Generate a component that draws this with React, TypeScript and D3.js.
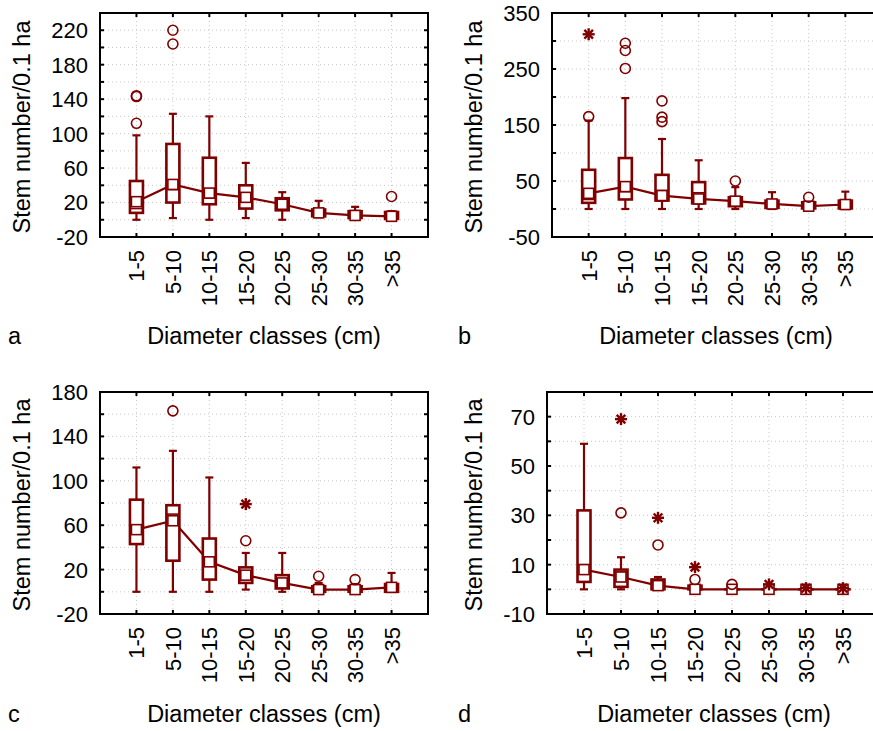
import React from 'react';
import * as d3 from 'd3';

const categories = ['1-5', '5-10', '10-15', '15-20', '20-25', '25-30', '30-35', '>35'];
const xTitle = 'Diameter classes (cm)';
const yTitle = 'Stem number/0.1 ha';

// Panel a
const aMin = [0, 2, 0, 2, 0, 3, 1, 0];
const aQ1 = [8, 20, 18, 13, 11, 4, 2, 1];
const aMedian = [13, 35, 25, 21, 15, 8, 5, 3];
const aQ3 = [45, 88, 72, 40, 25, 12, 10, 9];
const aMax = [98, 123, 120, 66, 32, 22, 15, 10];
const aMean = [21, 41, 31, 26, 18, 8, 5, 4];
const aOutliers: [number, number][] = [[0, 143], [0, 144], [0, 112], [1, 220], [1, 204], [7, 27]];
const aExtremes: [number, number][] = [];
const aTickLabels = [-20, 20, 60, 100, 140, 180, 220];
const aTicks = d3.range(-20, 241, 20);

// Panel b
const bMin = [0, 0, 0, 0, 0, 0, 0, 0];
const bQ1 = [11, 17, 15, 10, 5, 2, 1, 1];
const bMedian = [17, 31, 33, 29, 13, 8, 4, 7];
const bQ3 = [70, 91, 61, 48, 21, 15, 12, 15];
const bMax = [158, 198, 125, 87, 39, 30, 12, 31];
const bMean = [28, 40, 24, 18, 14, 9, 5, 8];
const bOutliers: [number, number][] = [[0, 165], [1, 296], [1, 283], [1, 251], [2, 193], [2, 164], [2, 156], [4, 50], [6, 21]];
const bExtremes: [number, number][] = [[0, 312]];
const bTickLabels = [-50, 50, 150, 250, 350];
const bTicks = d3.range(-50, 351, 50);

// Panel c
const cMin = [0, 0, 0, 2, 0, 0, 0, 0];
const cQ1 = [43, 28, 11, 8, 3, 0, 0, 0];
const cMedian = [60, 70, 31, 17, 10, 2, 2, 4];
const cQ3 = [83, 78, 48, 22, 15, 5, 5, 7];
const cMax = [112, 127, 103, 35, 35, 8, 7, 17];
const cMean = [56, 64, 27, 15, 8, 2, 2, 4];
const cOutliers: [number, number][] = [[1, 163], [3, 46], [5, 14], [6, 11]];
const cExtremes: [number, number][] = [[3, 79]];
const cTickLabels = [-20, 20, 60, 100, 140, 180];
const cTicks = d3.range(-20, 181, 20);

// Panel d
const dMin = [0, 0, 0, 0, 0, 0, 0, 0];
const dQ1 = [3, 1, 0, 0, 0, 0, 0, 0];
const dMedian = [10, 7, 3, 0, 0, 0, 0, 0];
const dQ3 = [32, 8, 4, 1.5, 0, 0, 0, 0];
const dMax = [59, 13, 5, 1.5, 0, 0, 0, 0];
const dMean = [8, 5, 1.5, 0, 0, 0, 0, 0];
const dOutliers: [number, number][] = [[1, 31], [2, 18], [3, 4], [4, 2]];
const dExtremes: [number, number][] = [[1, 69], [2, 29], [3, 9], [5, 2], [6, 0.5], [7, 0.5]];
const dTickLabels = [-10, 10, 30, 50, 70];
const dTicks = d3.range(-10, 81, 10);

const RED = '#800000';
const FONT = 'Arial, "Liberation Sans", sans-serif';

type PanelDef = {
  letter: string;
  left: number; top: number; width: number; height: number;
  domain: [number, number];
  ticks: number[]; tickLabels: number[];
  min: number[]; q1: number[]; median: number[]; q3: number[]; max: number[]; mean: number[];
  outliers: [number, number][]; extremes: [number, number][];
  yTitleX: number; letterX: number; titleX: number; titleY: number;
};

const panels: PanelDef[] = [
  { letter: 'a', left: 100, top: 13, width: 328, height: 224, domain: [-20, 240], ticks: aTicks, tickLabels: aTickLabels,
    min: aMin, q1: aQ1, median: aMedian, q3: aQ3, max: aMax, mean: aMean, outliers: aOutliers, extremes: aExtremes,
    yTitleX: 30, letterX: 8, titleX: 264, titleY: 344 },
  { letter: 'b', left: 552, top: 13, width: 330, height: 224, domain: [-50, 350], ticks: bTicks, tickLabels: bTickLabels,
    min: bMin, q1: bQ1, median: bMedian, q3: bQ3, max: bMax, mean: bMean, outliers: bOutliers, extremes: bExtremes,
    yTitleX: 482, letterX: 458, titleX: 716, titleY: 344 },
  { letter: 'c', left: 100, top: 392, width: 328, height: 222, domain: [-20, 180], ticks: cTicks, tickLabels: cTickLabels,
    min: cMin, q1: cQ1, median: cMedian, q3: cQ3, max: cMax, mean: cMean, outliers: cOutliers, extremes: cExtremes,
    yTitleX: 30, letterX: 8, titleX: 264, titleY: 722 },
  { letter: 'd', left: 547, top: 392, width: 333, height: 222, domain: [-10, 80], ticks: dTicks, tickLabels: dTickLabels,
    min: dMin, q1: dQ1, median: dMedian, q3: dQ3, max: dMax, mean: dMean, outliers: dOutliers, extremes: dExtremes,
    yTitleX: 482, letterX: 458, titleX: 714, titleY: 722 },
];

function Star({ x, y }: { x: number; y: number }) {
  const r = 6;
  const d = r * 0.72;
  return (
    <g stroke={RED} strokeWidth={2.4}>
      <line x1={x} y1={y - r} x2={x} y2={y + r} />
      <line x1={x - r} y1={y} x2={x + r} y2={y} />
      <line x1={x - d} y1={y - d} x2={x + d} y2={y + d} />
      <line x1={x - d} y1={y + d} x2={x + d} y2={y - d} />
    </g>
  );
}

function Panel({ p }: { p: PanelDef }) {
  const x = d3.scaleLinear().domain([0, categories.length + 1]).range([p.left, p.left + p.width]);
  const y = d3.scaleLinear().domain(p.domain).range([p.top + p.height, p.top]);
  const cx = (i: number) => x(i + 1);
  const boxW = 13;
  const capW = 8;
  const sq = 10;
  const lineGen = d3.line<number>().x((_, i) => cx(i)).y((v) => y(v));
  const bottom = p.top + p.height;
  const right = p.left + p.width;
  const tickLen = 4;
  return (
    <g>
      {/* grid */}
      <g stroke="#c8c8c8" strokeWidth={1} strokeDasharray="1,3">
        {p.ticks.filter((t) => t > p.domain[0] && t < p.domain[1]).map((t) => (
          <line key={'h' + t} x1={p.left} x2={right} y1={y(t)} y2={y(t)} />
        ))}
        {categories.map((c, i) => (
          <line key={'v' + c} x1={cx(i)} x2={cx(i)} y1={p.top} y2={bottom} />
        ))}
      </g>
      {/* ticks */}
      <g stroke="#000" strokeWidth={2}>
        {p.ticks.map((t) => (
          <g key={'t' + t}>
            <line x1={p.left} x2={p.left + tickLen} y1={y(t)} y2={y(t)} />
            <line x1={right} x2={right - tickLen} y1={y(t)} y2={y(t)} />
          </g>
        ))}
        {categories.map((c, i) => (
          <g key={'tx' + c}>
            <line x1={cx(i)} x2={cx(i)} y1={bottom} y2={bottom - tickLen} />
            <line x1={cx(i)} x2={cx(i)} y1={p.top} y2={p.top + tickLen} />
          </g>
        ))}
      </g>
      {/* connecting line */}
      <path d={lineGen(p.mean) || ''} fill="none" stroke={RED} strokeWidth={2.2} />
      {/* whiskers */}
      <g stroke={RED} strokeWidth={2.2}>
        {categories.map((c, i) => (
          <g key={'w' + c}>
            <line x1={cx(i)} x2={cx(i)} y1={y(p.min[i])} y2={y(p.max[i])} />
            <line x1={cx(i) - capW / 2} x2={cx(i) + capW / 2} y1={y(p.min[i])} y2={y(p.min[i])} />
            <line x1={cx(i) - capW / 2} x2={cx(i) + capW / 2} y1={y(p.max[i])} y2={y(p.max[i])} />
          </g>
        ))}
      </g>
      {/* boxes */}
      {categories.map((c, i) => (
        <rect key={'b' + c} x={cx(i) - boxW / 2} width={boxW} y={y(p.q3[i])}
          height={Math.max(0.01, y(p.q1[i]) - y(p.q3[i]))} fill="#fff" stroke={RED} strokeWidth={2.6} />
      ))}
      {/* medians */}
      <g stroke={RED} strokeWidth={1.6}>
        {categories.map((c, i) => (
          <line key={'m' + c} x1={cx(i) - boxW / 2} x2={cx(i) + boxW / 2} y1={y(p.median[i])} y2={y(p.median[i])} />
        ))}
      </g>
      {/* mean squares */}
      {categories.map((c, i) => (
        <rect key={'s' + c} x={cx(i) - sq / 2} y={y(p.mean[i]) - sq / 2} width={sq} height={sq}
          fill="#fff" stroke={RED} strokeWidth={1.6} />
      ))}
      {/* outliers */}
      {p.outliers.map(([i, v], k) => (
        <circle key={'o' + k} cx={cx(i)} cy={y(v)} r={5} fill="none" stroke={RED} strokeWidth={1.6} />
      ))}
      {p.extremes.map(([i, v], k) => (
        <Star key={'e' + k} x={cx(i)} y={y(v)} />
      ))}
      {/* frame */}
      <rect x={p.left} y={p.top} width={p.width} height={p.height} fill="none" stroke="#000" strokeWidth={2} />
      {/* labels */}
      <g fontFamily={FONT} fontSize={22} fill="#000">
        {p.tickLabels.map((t) => (
          <text key={'yl' + t} x={p.left - 12} y={y(t)} dy="0.36em" textAnchor="end">{t}</text>
        ))}
        {categories.map((c, i) => (
          <text key={'xl' + c} transform={`translate(${cx(i) + 8},${bottom + 13}) rotate(-90)`} textAnchor="end">{c}</text>
        ))}
        <text transform={`translate(${p.yTitleX},${p.top + p.height / 2 + 2}) rotate(-90)`} textAnchor="middle" fontSize={23.5}>{yTitle}</text>
        <text x={p.titleX} y={p.titleY} textAnchor="middle" fontSize={23.5}>{xTitle}</text>
        <text x={p.letterX} y={p.titleY} fontSize={23.5}>{p.letter}</text>
      </g>
    </g>
  );
}

export default function App() {
  return (
    <svg width={873} height={731} style={{ position: 'absolute', left: 0, top: 0, background: '#fff' }}>
      <rect width={873} height={731} fill="#fff" />
      {panels.map((p) => <Panel key={p.letter} p={p} />)}
    </svg>
  );
}
